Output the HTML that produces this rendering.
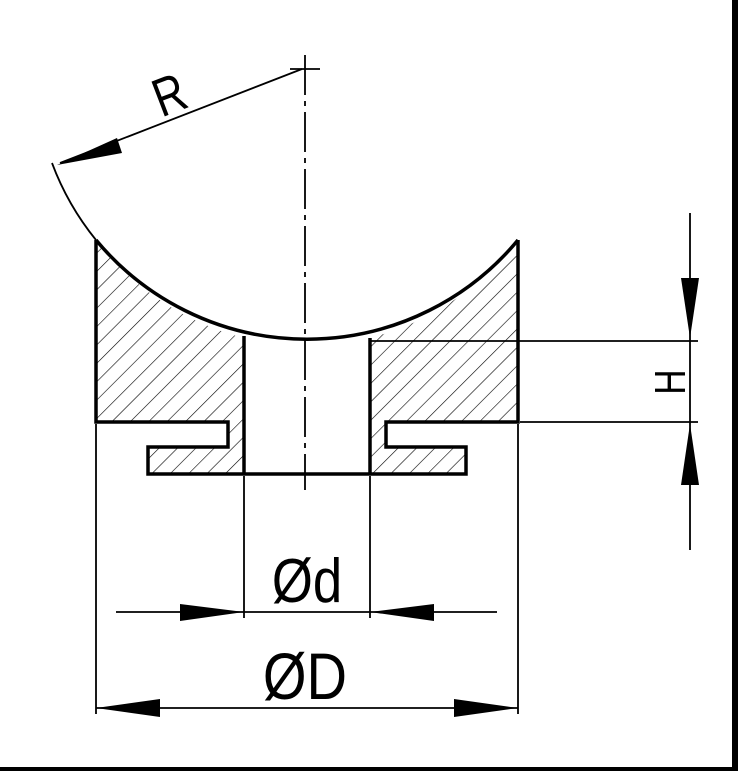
<!DOCTYPE html>
<html><head><style>html,body{margin:0;padding:0;background:#fff;}svg{display:block}</style></head>
<body>
<svg width="738" height="771" viewBox="0 0 738 771" xmlns="http://www.w3.org/2000/svg">
<defs>
<pattern id="h" patternUnits="userSpaceOnUse" width="13" height="13" patternTransform="rotate(45)">
<line x1="0" y1="0" x2="0" y2="13" stroke="#000" stroke-width="1.2"/>
</pattern>
</defs>
<rect x="732" y="0" width="6" height="771" fill="#000"/>
<rect x="0" y="767" width="738" height="4" fill="#000"/>
<path d="M96,240 A274,274 0 0 0 244,338 L244,474 L148,474 L148,447 L228,447 L228,422 L96,422 Z" fill="url(#h)"/>
<path d="M518,240 A274,274 0 0 1 370,338 L370,474 L466,474 L466,447 L386,447 L386,422 L518,422 Z" fill="url(#h)"/>
<g fill="none" stroke="#000" stroke-width="3.5" stroke-linejoin="miter">
<path d="M96,240 L96,422 L228,422 L228,447 L148,447 L148,474 L466,474 L466,447 L386,447 L386,422 L518,422 L518,240"/>
<path d="M96,240 A274,274 0 0 0 518,240"/>
<line x1="244" y1="336" x2="244" y2="474"/>
<line x1="370" y1="338" x2="370" y2="474"/>
</g>
<g fill="none" stroke="#000" stroke-width="1.8">
<path d="M52,163 A274,274 0 0 0 96,240"/>
<line x1="305" y1="55" x2="305" y2="490" stroke-dasharray="40,6,5,6"/>
<line x1="290" y1="69" x2="320" y2="69"/>
<line x1="302" y1="69" x2="60" y2="163"/>
<line x1="370" y1="341" x2="698" y2="341"/>
<line x1="520" y1="422" x2="698" y2="422"/>
<line x1="690" y1="213" x2="690" y2="550"/>
<line x1="244" y1="476" x2="244" y2="618"/>
<line x1="370" y1="476" x2="370" y2="618"/>
<line x1="96" y1="424" x2="96" y2="714"/>
<line x1="518" y1="424" x2="518" y2="714"/>
<line x1="116" y1="612" x2="497" y2="612"/>
<line x1="96" y1="708" x2="518" y2="708"/>
</g>
<g fill="#000">
<polygon points="57,165 117,138 122,153"/>
<polygon points="690,338 681,278 699,278"/>
<polygon points="690,424 681,485 699,485"/>
<polygon points="244,612 180,604 180,621"/>
<polygon points="370,612 434,604 434,621"/>
<polygon points="96,708 160,699 160,717"/>
<polygon points="518,708 454,699 454,717"/>
</g>
<g font-family="Liberation Sans, sans-serif" fill="#000">
<text x="0" y="0" font-size="54" transform="translate(176,112) rotate(-21) scale(0.8,1)" text-anchor="middle">R</text>
<text x="0" y="0" font-size="44" transform="translate(685,382) rotate(-90) scale(0.8,1)" text-anchor="middle">H</text>
<text x="0" y="0" font-size="62" transform="translate(307,602) scale(0.85,1)" text-anchor="middle">Ød</text>
<text x="0" y="0" font-size="66" transform="translate(305,699) scale(0.85,1)" text-anchor="middle">ØD</text>
</g>
</svg>
</body></html>
